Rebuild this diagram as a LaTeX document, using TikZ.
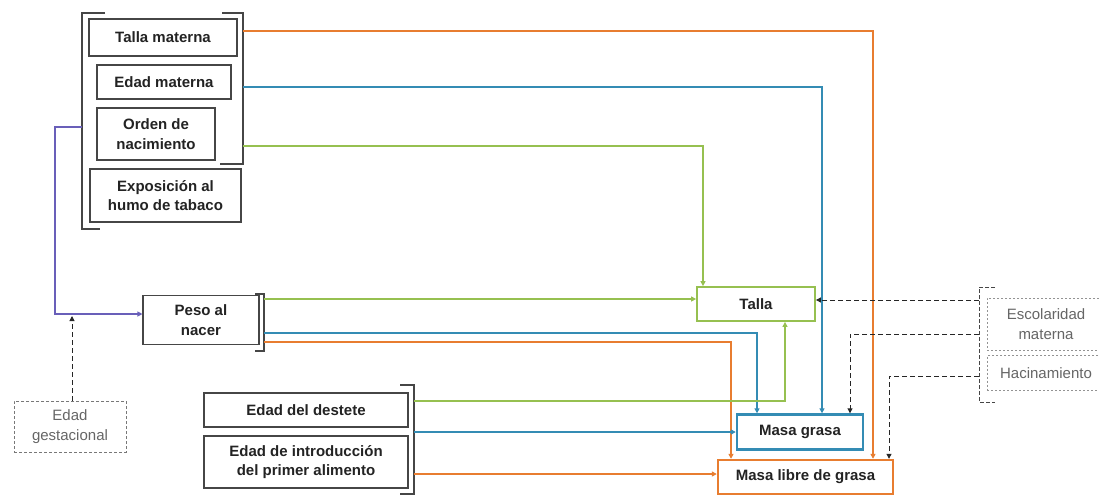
\documentclass[tikz,border=0pt]{standalone}
\usepackage{fontspec}
\setmainfont{Liberation Sans}
\usetikzlibrary{arrows.meta}
\definecolor{corange}{RGB}{232,125,48}
\definecolor{cblue}{RGB}{52,140,180}
\definecolor{cgreen}{RGB}{150,192,80}
\definecolor{cpurple}{RGB}{105,95,185}
\definecolor{boxgray}{RGB}{70,70,70}
\definecolor{txt}{RGB}{35,35,35}
\definecolor{dgray}{RGB}{120,120,120}
\begin{document}
\begin{tikzpicture}[x=1pt,y=-1pt,
  box/.style={draw=boxgray, line width=1.1pt, fill=white, inner sep=0pt, align=center,
    font=\fontsize{15}{19.5}\selectfont\bfseries, text=txt},
  dbox/.style={draw=dgray, dash pattern=on 3pt off 2pt, line width=1pt, fill=white, inner sep=0pt,
    align=center, font=\fontsize{15}{19.5}\selectfont, text=dgray!85!black},
  obox/.style={draw=dgray!80, dash pattern=on 2pt off 2pt, line width=1pt, fill=white, inner sep=0pt,
    align=center, font=\fontsize{15}{19.5}\selectfont, text=dgray!85!black},
  brk/.style={draw=boxgray, line width=1.2pt},
  arr/.style={-{Triangle[length=5pt,width=5pt]}},
  lor/.style={draw=corange, line width=1.5pt, arr},
  lbl/.style={draw=cblue, line width=1.5pt, arr},
  lgr/.style={draw=cgreen, line width=1.5pt, arr},
  lpu/.style={draw=cpurple, line width=1.1pt, arr},
  lbk/.style={draw=black!85, line width=1pt, dash pattern=on 5pt off 3pt, arr}]
\useasboundingbox (0,0) rectangle (1099,496);
\clip (0,0) rectangle (1099,496);

% left group boxes
\node[box, minimum width=148, minimum height=37] (tm) at (163,37.5) {Talla materna};
\node[box, minimum width=134, minimum height=34] (em) at (164,82) {Edad materna};
\node[box, minimum width=118, minimum height=52] (on) at (156,134) {Orden de\\nacimiento};
\node[box, minimum width=151, minimum height=53] (ex) at (165.5,195.5) {Exposición al\\humo de tabaco};

% other sources
\node[box, minimum width=116, minimum height=49] (ps) at (201,320) {Peso al\\nacer};
\node[dbox, minimum width=112, minimum height=51] (eg) at (70,426.5) {Edad\\gestacional};
\node[box, minimum width=204, minimum height=34] (ed) at (306,410) {Edad del destete};
\node[box, minimum width=204, minimum height=52] (ei) at (306,462) {Edad de introducción\\del primer alimento};

% outcomes
\node[box, draw=cgreen, line width=1.8pt, minimum width=118, minimum height=34] (ta) at (756,304) {Talla};
\node[box, draw=cblue, line width=2.4pt, minimum width=126, minimum height=35] (mg) at (800,432) {Masa grasa};
\node[box, draw=corange, line width=2.4pt, minimum width=175, minimum height=34] (ml) at (805.5,477) {Masa libre de grasa};

% right dotted boxes
\node[obox, minimum width=118, minimum height=52] (es) at (1046,324) {Escolaridad\\materna};
\node[obox, minimum width=118, minimum height=35] (ha) at (1046,373) {Hacinamiento};

% brackets
\draw[brk] (105,13) -- (82,13) -- (82,229) -- (100,229);
\draw[brk] (222,13) -- (243,13) -- (243,164) -- (220,164);
\draw[brk] (255,294) -- (264,294) -- (264,351) -- (255,351);
\draw[brk] (400,385) -- (414,385) -- (414,494) -- (400,494);
\draw[brk, dash pattern=on 4pt off 2pt, line width=1pt] (995,287) -- (979,287) -- (979,402) -- (995,402);

% bracket coordinates
\coordinate (gL) at (82,127);
\coordinate (gO) at (243,31);
\coordinate (gB) at (243,87);
\coordinate (gG) at (243,146);
\coordinate (pG) at (264,299);
\coordinate (pB) at (264,333);
\coordinate (pO) at (264,342);
\coordinate (dG) at (414,401);
\coordinate (dB) at (414,432);
\coordinate (dO) at (414,474);
\coordinate (rT) at (979,300);
\coordinate (rM) at (979,334);
\coordinate (rH) at (979,376);

% connectors from left group
\draw[lor] (gO) -| (873,0 |- ml.north);
\draw[lbl] (gB) -| (822,0 |- mg.north);
\draw[lgr] (gG) -| (703,0 |- ta.north);
\draw[lpu] (gL) -- (55,127) -- (55,314) -- (ps.west |- 0,314);
\draw[lbk] (eg.north -| 72,0) -- (72,316);

% from Peso al nacer
\draw[lgr] (pG) -- (ta.west |- pG);
\draw[lbl] (pB) -| (757,0 |- mg.north);
\draw[lor] (pO) -| (731,0 |- ml.north);

% from feeding group
\draw[lgr] (dG) -| (785,0 |- ta.south);
\draw[lbl] (dB) -- (mg.west |- dB);
\draw[lor] (dO) -- (ml.west |- dO);

% from social group
\draw[lbk] (rT) -- (ta.east |- rT);
\draw[lbk] (rM) -| (850,0 |- mg.north);
\draw[lbk] (rH) -| (889,0 |- ml.north);
\end{tikzpicture}
\end{document}
